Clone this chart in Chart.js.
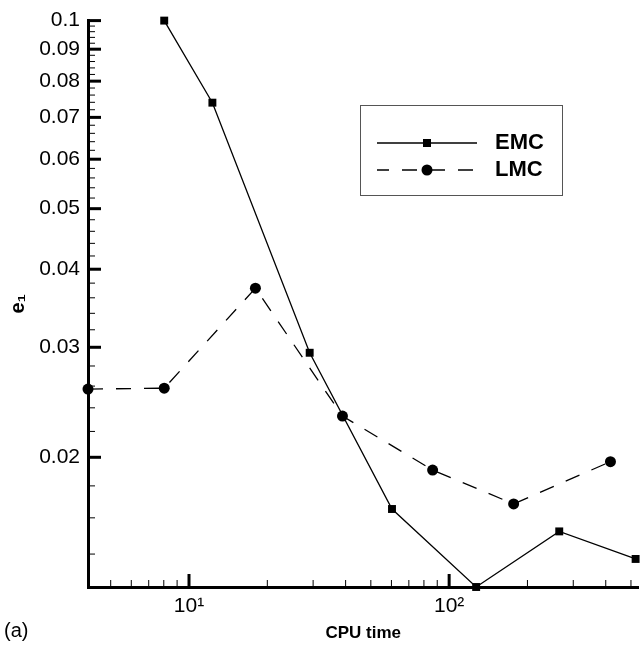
<!DOCTYPE html>
<html>
<head>
<meta charset="utf-8">
<script src="https://cdn.jsdelivr.net/npm/chart.js@4.4.1/dist/chart.umd.min.js"></script>
<style>
    html, body { margin: 0; padding: 0; background: #fff; }
    #errChart { display: block; }
</style>
</head>
<body>
<canvas id="errChart" width="644" height="646"></canvas>
<script>
// Values (log-log axes)
const cpuTimeEMC = [8.03, 12.3, 29.1, 60.3, 127, 265, 521]
const errorEMC = [0.1, 0.0739, 0.0294, 0.01653, 0.0124, 0.01522, 0.01375]
const cpuTimeLMC = [4.09, 8.03, 18.0, 38.9, 86.4, 177, 417]
const errorLMC = [0.02572, 0.0258, 0.0373, 0.02328, 0.01908, 0.01684, 0.01968]

const xMajorTicks = [10, 100]
const xTickLabels = ['10\u00B9', '10\u00B2']
const xMinorTicks = [5, 6, 7, 8, 9, 20, 30, 40, 50, 60, 70, 80, 90, 200, 300, 400, 500]

const yMajorTicks = [0.02, 0.03, 0.04, 0.05, 0.06, 0.07, 0.08, 0.09, 0.1]
const yTickLabels = ['0.02', '0.03', '0.04', '0.05', '0.06', '0.07', '0.08', '0.09', '0.1']
const yMinorTicks = [
    0.014, 0.016, 0.018, 0.022, 0.024, 0.026, 0.028, 0.032, 0.034, 0.036, 0.038,
    0.042, 0.044, 0.046, 0.048, 0.052, 0.054, 0.056, 0.058, 0.062, 0.064, 0.066,
    0.068, 0.072, 0.074, 0.076, 0.078, 0.082, 0.084, 0.086, 0.088, 0.092, 0.094,
    0.096, 0.098,
]

const seriesNames = ['EMC', 'LMC']

const FONT = "'Liberation Sans', Arial, sans-serif"

const canvas = document.querySelector('#errChart')
const ctx = canvas.getContext('2d')

// Ticks point into the plot, drawn from the scales' own positions
const innerTicksPlugin = {
    id: 'innerTicksPlugin',
    beforeDatasetsDraw(chart) {
        const { ctx, chartArea, scales } = chart
        ctx.save()
        ctx.strokeStyle = '#000'
        scales.x.ticks.forEach((t) => {
            const px = scales.x.getPixelForValue(t.value)
            const major = xMajorTicks.includes(t.value)
            ctx.lineWidth = major ? 3 : 1
            ctx.beginPath()
            ctx.moveTo(px, chartArea.bottom)
            ctx.lineTo(px, chartArea.bottom - (major ? 13 : 7))
            ctx.stroke()
        })
        scales.y.ticks.forEach((t) => {
            const py = scales.y.getPixelForValue(t.value)
            const major = yMajorTicks.includes(t.value)
            ctx.lineWidth = major ? 3 : 1
            ctx.beginPath()
            ctx.moveTo(chartArea.left, py)
            ctx.lineTo(chartArea.left + (major ? 13 : 7), py)
            ctx.stroke()
        })
        ctx.restore()
    },
}

// Boxed legend inside the plot, plus the "(a)" panel tag
const boxLegendPlugin = {
    id: 'boxLegendPlugin',
    afterDraw(chart) {
        const ctx = chart.ctx
        ctx.save()
        ctx.strokeStyle = '#555'
        ctx.lineWidth = 1
        ctx.strokeRect(360.5, 105.5, 202, 90)

        const rows = [143, 170]
        chart.data.datasets.forEach((ds, i) => {
            const y = rows[i]
            ctx.strokeStyle = '#000'
            ctx.lineWidth = 1.3
            ctx.setLineDash(ds.borderDash || [])
            ctx.lineDashOffset = ds.borderDash ? 3 : 0
            ctx.beginPath()
            ctx.moveTo(377, y)
            ctx.lineTo(477, y)
            ctx.stroke()
            ctx.setLineDash([])
            ctx.fillStyle = '#000'
            if (ds.pointStyle === 'rect') {
                ctx.fillRect(423, y - 4, 8, 8)
            } else {
                ctx.beginPath()
                ctx.arc(427, y, 5.5, 0, Math.PI * 2)
                ctx.fill()
            }
            ctx.font = 'bold 22px ' + FONT
            ctx.textAlign = 'left'
            ctx.textBaseline = 'middle'
            ctx.fillText(ds.label, 495, y)
        })

        ctx.font = '20px ' + FONT
        ctx.textAlign = 'left'
        ctx.textBaseline = 'middle'
        ctx.fillText('(a)', 4, 631)
        ctx.restore()
    },
}

const data = {
    datasets: [
        {
            label: seriesNames[0],
            data: cpuTimeEMC.map((x, i) => ({ x: x, y: errorEMC[i] })),
            borderColor: '#000',
            backgroundColor: '#000',
            borderWidth: 1.3,
            pointStyle: 'rect',
            pointRadius: 5.6,
            pointBorderWidth: 0,
            showLine: true,
            tension: 0,
            clip: false,
        },
        {
            label: seriesNames[1],
            data: cpuTimeLMC.map((x, i) => ({ x: x, y: errorLMC[i] })),
            borderColor: '#000',
            backgroundColor: '#000',
            borderWidth: 1.3,
            borderDash: [15, 13],
            pointStyle: 'circle',
            pointRadius: 5.5,
            pointBorderWidth: 0,
            showLine: true,
            tension: 0,
            clip: false,
        },
    ],
}

const config = {
    type: 'scatter',
    data: data,
    plugins: [innerTicksPlugin, boxLegendPlugin],
    options: {
        responsive: false,
        animation: false,
        events: [],
        layout: {
            padding: { top: 17, right: 0, bottom: 0, left: 0 },
        },
        plugins: {
            legend: { display: false },
            tooltip: { enabled: false },
        },
        scales: {
            x: {
                type: 'logarithmic',
                min: 4.09,
                max: 534,
                afterBuildTicks: (scale) => {
                    scale.ticks = xMinorTicks
                        .concat(xMajorTicks)
                        .sort((a, b) => a - b)
                        .map((v) => ({ value: v }))
                },
                afterFit: (scale) => {
                    scale.height = 59
                },
                grid: { display: false, drawTicks: false },
                border: { display: true, color: '#000', width: 3 },
                ticks: {
                    autoSkip: false,
                    maxRotation: 0,
                    minRotation: 0,
                    padding: 7,
                    color: '#000',
                    font: { family: FONT, size: 21 },
                    callback: (value) => {
                        const i = xMajorTicks.indexOf(value)
                        return i >= 0 ? xTickLabels[i] : ''
                    },
                },
                title: {
                    display: true,
                    text: 'CPU time',
                    color: '#000',
                    font: { family: FONT, size: 17, weight: 'bold' },
                    padding: { top: 0, bottom: 2 },
                },
            },
            y: {
                type: 'logarithmic',
                min: 0.0124,
                max: 0.1,
                afterBuildTicks: (scale) => {
                    scale.ticks = yMinorTicks
                        .concat(yMajorTicks)
                        .sort((a, b) => a - b)
                        .map((v) => ({ value: v }))
                },
                afterFit: (scale) => {
                    scale.width = 88
                },
                grid: { display: false, drawTicks: false },
                border: { display: true, color: '#000', width: 3 },
                ticks: {
                    autoSkip: false,
                    padding: 8,
                    color: '#000',
                    font: { family: FONT, size: 21 },
                    callback: (value) => {
                        const i = yMajorTicks.indexOf(value)
                        return i >= 0 ? yTickLabels[i] : ''
                    },
                },
                title: {
                    display: true,
                    text: 'e\u2081',
                    color: '#000',
                    font: { family: FONT, size: 20, weight: 'bold' },
                    padding: { top: 6, bottom: 0 },
                },
            },
        },
    },
}

const errChart = new Chart(ctx, config)
</script>
</body>
</html>
